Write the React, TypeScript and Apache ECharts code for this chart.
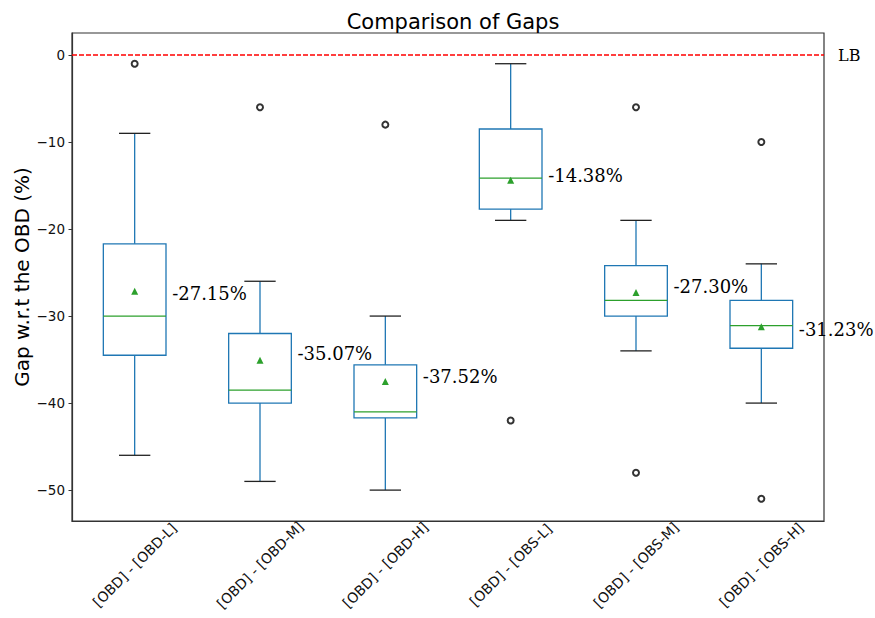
import React, { useEffect, useRef } from "react";
import * as echarts from "echarts";

const categories = [
  "[OBD] - [OBD-L]",
  "[OBD] - [OBD-M]",
  "[OBD] - [OBD-H]",
  "[OBD] - [OBS-L]",
  "[OBD] - [OBS-M]",
  "[OBD] - [OBS-H]",
];
const whiskerLow = [-46, -49, -50, -19, -34, -40];
const q1 = [-34.5, -40, -41.7, -17.7, -30, -33.7];
const median = [-30, -38.5, -41, -14.15, -28.2, -31.1];
const q3 = [-21.7, -32, -35.6, -8.5, -24.2, -28.2];
const whiskerHigh = [-9, -26, -30, -1, -19, -24];
const means = [-27.15, -35.07, -37.52, -14.38, -27.3, -31.23];
const outlierCat = [0, 1, 2, 3, 4, 4, 5, 5];
const outlierVal = [-1, -6, -8, -42, -6, -48, -10, -51];
const yTicks = [-50, -40, -30, -20, -10, 0];
const lowerBound = 0;

// label vertical nudges (layout only)
const meanLabelDy = [2, -7, -5.5, -5, -6, 3];

const BLUE = "#1f77b4";
const GREEN = "#2ca02c";
const SANS = "DejaVu Sans";
const SERIF = "DejaVu Serif";

export default function App() {
  const ref = useRef<HTMLDivElement>(null);
  useEffect(() => {
    if (!ref.current) return;
    const chart = echarts.init(ref.current, null, { renderer: "svg" });
    const boxData = categories.map((_, i) => [i, whiskerLow[i], q1[i], median[i], q3[i], whiskerHigh[i]]);
    const option: any = {
      animation: false,
      backgroundColor: "#fff",
      textStyle: { fontFamily: SANS },
      title: {
        text: "Comparison of Gaps",
        left: 448,
        textAlign: "center",
        top: 6,
        textStyle: { fontFamily: SANS, fontSize: 21, fontWeight: "normal", color: "#000" },
      },
      grid: {
        left: 72,
        right: 51,
        top: 33,
        bottom: 97,
        containLabel: false,
        outerBoundsMode: "none",
        show: true,
        borderColor: "#333",
        borderWidth: 1.2,
        backgroundColor: "transparent",
      },
      xAxis: {
        type: "category",
        data: categories,
        boundaryGap: true,
        axisLine: { onZero: false, lineStyle: { color: "#333", width: 1.2 } },
        axisTick: { alignWithLabel: true, length: 3.5, lineStyle: { color: "#333", width: 1 } },
        axisLabel: {
          rotate: 45,
          align: "center",
          verticalAlign: "middle",
          margin: 44,
          fontFamily: SANS,
          fontSize: 14,
          color: "#111",
        },
        splitLine: { show: false },
      },
      yAxis: {
        type: "value",
        min: -53.55,
        max: 2.53,
        name: "Gap w.r.t the OBD (%)",
        nameLocation: "middle",
        nameRotate: 90,
        nameGap: 40,
        nameMoveOverlap: false,
        nameTextStyle: { fontFamily: SANS, fontSize: 20, color: "#000" },
        axisLine: { show: true, onZero: false, lineStyle: { color: "#333", width: 1.2 } },
        axisTick: { show: true, length: 3.5, customValues: yTicks, lineStyle: { color: "#333", width: 1 } },
        axisLabel: {
          margin: 7,
          fontFamily: SANS,
          fontSize: 13.5,
          color: "#111",
          customValues: yTicks,
          formatter: (v: number) => (v < 0 ? "\u2212" + Math.abs(v) : String(v)),
        },
        splitLine: { show: false },
      },
      series: [
        {
          type: "custom",
          data: boxData,
          encode: { x: 0, y: [1, 2, 3, 4, 5] },
          z: 2,
          renderItem: (params: any, api: any) => {
            const idx = api.value(0);
            const band = api.size([1, 0])[0];
            const bw = band * 0.5;
            const cw = band * 0.25;
            const pLow = api.coord([idx, api.value(1)]);
            const pQ1 = api.coord([idx, api.value(2)]);
            const pMed = api.coord([idx, api.value(3)]);
            const pQ3 = api.coord([idx, api.value(4)]);
            const pHigh = api.coord([idx, api.value(5)]);
            const cx = pMed[0];
            const lw = 1.3;
            return {
              type: "group",
              children: [
                { type: "line", shape: { x1: cx, y1: pQ1[1], x2: cx, y2: pLow[1] }, style: { stroke: BLUE, lineWidth: lw } },
                { type: "line", shape: { x1: cx, y1: pQ3[1], x2: cx, y2: pHigh[1] }, style: { stroke: BLUE, lineWidth: lw } },
                { type: "line", shape: { x1: cx - cw / 2, y1: pLow[1], x2: cx + cw / 2, y2: pLow[1] }, style: { stroke: "#222", lineWidth: lw } },
                { type: "line", shape: { x1: cx - cw / 2, y1: pHigh[1], x2: cx + cw / 2, y2: pHigh[1] }, style: { stroke: "#222", lineWidth: lw } },
                {
                  type: "rect",
                  shape: { x: cx - bw / 2, y: pQ3[1], width: bw, height: pQ1[1] - pQ3[1] },
                  style: { stroke: BLUE, fill: "none", lineWidth: lw },
                },
                { type: "line", shape: { x1: cx - bw / 2, y1: pMed[1], x2: cx + bw / 2, y2: pMed[1] }, style: { stroke: GREEN, lineWidth: lw } },
              ],
            };
          },
        },
        {
          type: "scatter",
          data: outlierCat.map((c, i) => [c, outlierVal[i]]),
          symbol: "emptyCircle",
          symbolSize: 6,
          itemStyle: { color: "#333", borderColor: "#333", borderWidth: 0.8, opacity: 1 },
          z: 3,
        },
        {
          type: "scatter",
          data: means.map((m, i) => ({
            value: [i, m],
            label: { offset: [0, meanLabelDy[i]] },
          })),
          symbol: "triangle",
          symbolSize: 7,
          itemStyle: { color: GREEN, opacity: 1 },
          z: 4,
          label: {
            show: true,
            position: "right",
            distance: 34,
            formatter: (p: any) => p.value[1].toFixed(2) + "%",
            fontFamily: SERIF,
            fontSize: 18,
            color: "#000",
          },
          markLine: {
            silent: true,
            symbol: "none",
            z: 5,
            data: [{ yAxis: lowerBound }],
            lineStyle: { color: "#ff0000", type: [5, 2], width: 1.5, opacity: 1 },
            label: {
              show: true,
              position: "end",
              formatter: "LB",
              distance: 14,
              padding: [0, 0, 12, 0],
              fontFamily: SERIF,
              fontSize: 16,
              color: "#000",
            },
          },
        },
      ],
    };
    chart.setOption(option);
    return () => chart.dispose();
  }, []);
  return (
    <div
      ref={ref}
      style={{ position: "fixed", left: 0, top: 0, width: 875, height: 618, background: "#fff" }}
    />
  );
}
